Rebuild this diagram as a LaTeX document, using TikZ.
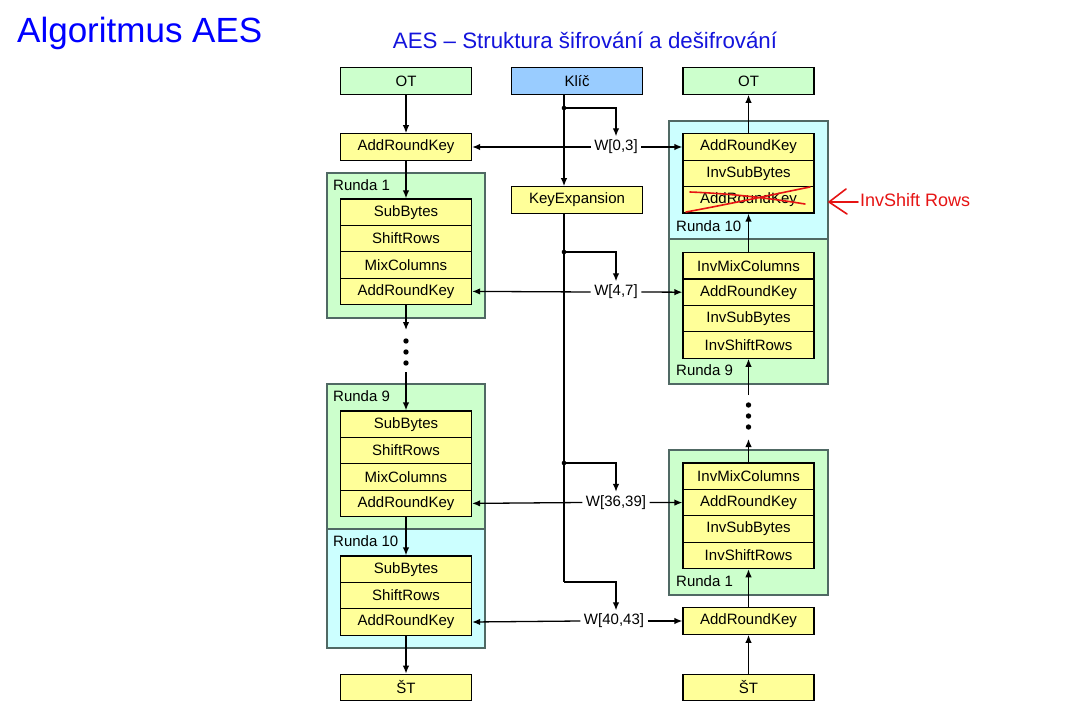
\documentclass[tikz,border=0pt]{standalone}
\usepackage{fontspec}
\setmainfont{Liberation Sans}
\usetikzlibrary{arrows.meta,calc}
\definecolor{boxyellow}{RGB}{255,255,153}
\definecolor{lgreen}{RGB}{204,255,204}
\definecolor{lcyan}{RGB}{204,255,255}
\definecolor{keyblue}{RGB}{153,204,255}
\definecolor{cborder}{RGB}{80,105,100}
\definecolor{titleblue}{RGB}{0,0,255}
\definecolor{titleblue2}{RGB}{20,20,220}
\definecolor{penred}{RGB}{230,20,20}
\tikzset{
  bx/.style={draw=black, line width=1.3pt, fill=boxyellow, minimum width=131pt, minimum height=26.4pt, inner sep=0pt, font=\fontsize{15}{18}\selectfont},
  gbx/.style={bx, fill=lgreen},
  kbx/.style={bx, fill=keyblue},
  cont/.style={draw=cborder, line width=1.3pt},
  rlabel/.style={anchor=west, inner sep=0pt, font=\fontsize{15}{18}\selectfont},
  wlabel/.style={inner sep=3.5pt, fill=white, font=\fontsize{15}{18}\selectfont},
  arr/.style={line width=1.3pt, -{Latex[length=8pt,width=6.5pt]}},
  ln/.style={line width=1.3pt},
}
\begin{document}
\begin{tikzpicture}[x=1pt,y=-1pt]
\useasboundingbox (0,0) rectangle (1086,719);
\fill[white] (0,0) rectangle (1086,719);
% titles
\node[anchor=west, inner sep=0pt, text=titleblue, font=\fontsize{35}{40}\selectfont] (title) at (17,33) {Algoritmus AES};
\node[inner sep=0pt, text=titleblue2, font=\fontsize{22.3}{26}\selectfont] (subtitle) at (585,40) {AES – Struktura šifrování a dešifrování};

% ---- containers left
\draw[cont, fill=lgreen] (327,173) rectangle (485,318);
\draw[cont, fill=lgreen] (327,384) rectangle (485,529);
\draw[cont, fill=lcyan] (327,529) rectangle (485,648);
% ---- containers right
\draw[cont, fill=lcyan] (669,121) rectangle (828,239);
\draw[cont, fill=lgreen] (669,239) rectangle (828,384);
\draw[cont, fill=lgreen] (669,450) rectangle (828,595);

\node[rlabel] (r1l) at (333,185) {Runda 1};
\node[rlabel] (r9l) at (333,396) {Runda 9};
\node[rlabel] (r10l) at (333,541) {Runda 10};
\node[rlabel] (r10r) at (676,226) {Runda 10};
\node[rlabel] (r9r) at (676,370) {Runda 9};
\node[rlabel] (r1r) at (676,581) {Runda 1};

% ---- left column
\node[gbx] (OTL) at (406,81) {OT};
\node[bx] (ARK0L) at (406,147) {AddRoundKey};
\node[bx] (SB1L) at (406,212.2) {SubBytes};
\node[bx] (SR1L) at (406,238.6) {ShiftRows};
\node[bx] (MC1L) at (406,265.0) {MixColumns};
\node[bx] (ARK1L) at (406,291.4) {AddRoundKey};
\node[bx] (SB9L) at (406,424.2) {SubBytes};
\node[bx] (SR9L) at (406,450.6) {ShiftRows};
\node[bx] (MC9L) at (406,477.0) {MixColumns};
\node[bx] (ARK9L) at (406,503.4) {AddRoundKey};
\node[bx] (SB10L) at (406,569.2) {SubBytes};
\node[bx] (SR10L) at (406,595.6) {ShiftRows};
\node[bx] (ARK10L) at (406,622.0) {AddRoundKey};
\node[bx] (STL) at (406,687.5) {ŠT};

% ---- middle
\node[kbx] (KEY) at (577,81) {Klíč};
\node[bx] (KE) at (577,200) {KeyExpansion};

% ---- right column
\node[gbx] (OTR) at (748.5,81) {OT};
\node[bx] (ARK0R) at (748.5,147) {AddRoundKey};
\node[bx] (ISB10R) at (748.5,173.4) {InvSubBytes};
\node[bx] (ARKXR) at (748.5,199.8) {AddRoundKey};
\node[bx] (IMC9R) at (748.5,265.8) {InvMixColumns};
\node[bx] (ARK9R) at (748.5,292.2) {AddRoundKey};
\node[bx] (ISB9R) at (748.5,318.6) {InvSubBytes};
\node[bx] (ISR9R) at (748.5,345.0) {InvShiftRows};
\node[bx] (IMC1R) at (748.5,476.2) {InvMixColumns};
\node[bx] (ARK1R) at (748.5,502.6) {AddRoundKey};
\node[bx] (ISB1R) at (748.5,529.0) {InvSubBytes};
\node[bx] (ISR1R) at (748.5,555.4) {InvShiftRows};
\node[bx] (ARK10R) at (748.5,621.0) {AddRoundKey};
\node[bx] (STR) at (748.5,687.5) {ŠT};

% ---- key distribution
\coordinate (d1) at (564,108);
\coordinate (d2) at (564,252);
\coordinate (d3) at (564,463);
\coordinate (c4) at (564,582);
\draw[arr] (KEY.south -| d1) -- (KE.north -| d1);
\draw[ln] (KE.south -| d1) -- (c4);

\node[wlabel] (W03) at (616,147) {W[0,3]};
\node[wlabel] (W47) at (616,292) {W[4,7]};
\node[wlabel] (W3639) at (616,502.5) {W[36,39]};
\node[wlabel] (W4043) at (614,621) {W[40,43]};

\draw[arr] (d1) -| (W03.north);
\draw[arr] (d2) -| (W47.north);
\draw[arr] (d3) -| (W3639.north);
\draw[arr] (c4) -| ([xshift=2pt]W4043.north);
\fill (d1) circle (2.3pt);
\fill (d2) circle (2.3pt);
\fill (d3) circle (2.3pt);

\draw[arr] (W03.west) -- (ARK0L.east);
\draw[arr] (W03.east) -- (ARK0R.west);
\draw[arr] (W47.west) -- (ARK1L.east);
\draw[arr] (W47.east) -- (ARK9R.west);
\draw[arr] (W3639.west) -- (ARK9L.east);
\draw[arr] (W3639.east) -- (ARK1R.west);
\draw[arr] (W4043.west) -- (ARK10L.east);
\draw[arr] (W4043.east) -- (ARK10R.west);

% ---- left flow
\coordinate (la) at (406,330);
\coordinate (lb) at (406,372);
\draw[arr] (OTL) -- (ARK0L);
\draw[arr] (ARK0L) -- (SB1L);
\draw[arr] (ARK1L.south) -- (la);
\fill (406,341) circle (2.7pt) (406,352) circle (2.7pt) (406,363) circle (2.7pt);
\draw[arr] (lb) -- (SB9L.north);
\draw[arr] (ARK9L) -- (SB10L);
\draw[arr] (ARK10L) -- (STL);

% ---- right flow
\coordinate (ra) at (748.5,395);
\coordinate (rb) at (748.5,439);
\draw[arr] (ARK0R) -- (OTR);
\draw[arr] (IMC9R.north) -- (ARKXR.south);
\draw[arr] (ra) -- (ISR9R.south);
\fill (748.5,405) circle (2.7pt) (748.5,416) circle (2.7pt) (748.5,427) circle (2.7pt);
\draw[arr] (IMC1R.north) -- (rb);
\draw[arr] (ARK10R) -- (ISR1R);
\draw[arr] (STR) -- (ARK10R);

% ---- red annotation
\draw[penred, line width=1.6pt, line cap=round] (690,192) .. controls (740,194) and (780,200) .. (805,204);
\draw[penred, line width=1.6pt, line cap=round] (686,212) .. controls (730,204) and (780,193) .. (810,187);
\draw[penred, line width=1.6pt, line cap=round, line join=round] (846,189) -- (829,202) -- (847,214);
\draw[penred, line width=1.6pt, line cap=round] (830,202) -- (858,202);
\node[anchor=west, inner sep=0pt, text=penred, font=\fontsize{18}{21}\selectfont] (note) at (860,200) {InvShift Rows};
\end{tikzpicture}
\end{document}
